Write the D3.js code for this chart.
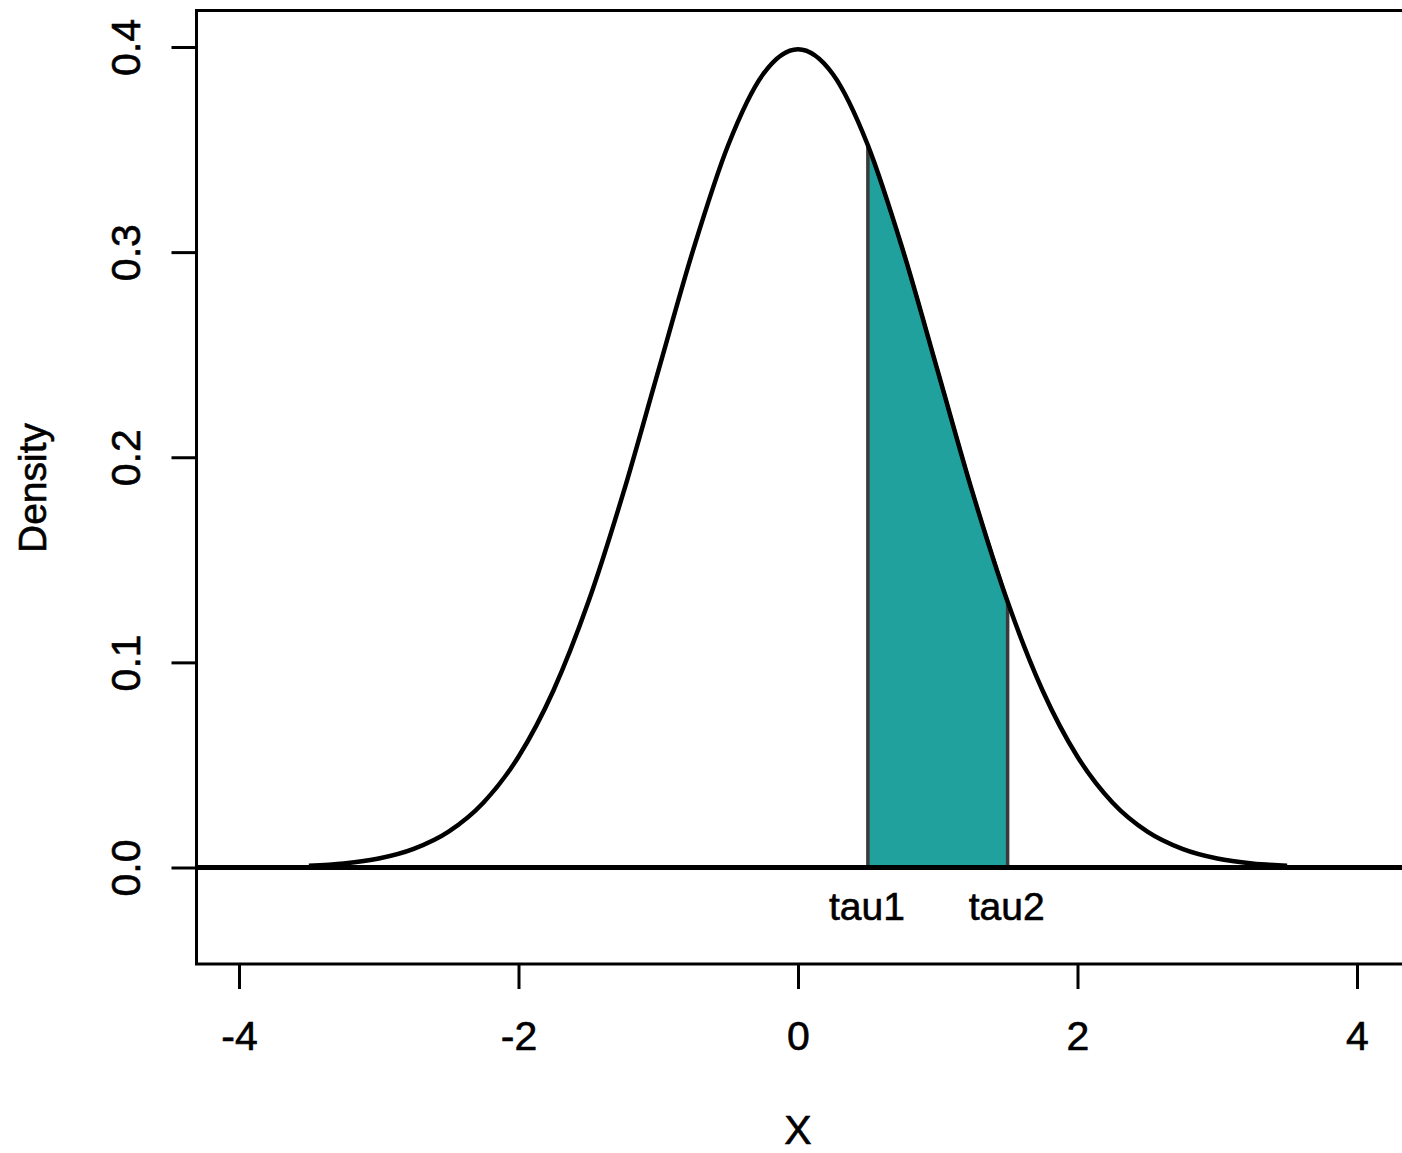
<!DOCTYPE html>
<html><head><meta charset="utf-8">
<script src="https://cdn.jsdelivr.net/npm/d3@7"></script>
<style>html,body{margin:0;padding:0;background:#fff;}svg{display:block;}</style>
</head><body><div id="chart"></div>
<script>
// Density curve points (x, density)
const xs = [-3.5,-3.25,-3,-2.75,-2.5,-2.25,-2,-1.75,-1.5,-1.25,-1,-0.75,-0.5,-0.25,0,0.25,0.5,0.75,1,1.25,1.5,1.75,2,2.25,2.5,2.75,3,3.25,3.5];
const dens = [0.0009,0.0020,0.0044,0.0091,0.0175,0.0317,0.0540,0.0863,0.1295,0.1826,0.2420,0.3011,0.3521,0.3867,0.3989,0.3867,0.3521,0.3011,0.2420,0.1826,0.1295,0.0863,0.0540,0.0317,0.0175,0.0091,0.0044,0.0020,0.0009];
const shadeFrom = 0.5, shadeTo = 1.5;
const shadeLabels = ["tau1","tau2"];
const xTicks = [-4,-2,0,2,4];
const yTicks = [0.0,0.1,0.2,0.3,0.4];
const xLabel = "X", yLabel = "Density";

const W = 1402, H = 1153;
const svg = d3.select("#chart").append("svg").attr("width", W).attr("height", H);
const x = d3.scaleLinear().domain([-4,4]).range([239,1357]);
const y = d3.scaleLinear().domain([0,0.4]).range([867.5,47]);
const font = "'Liberation Sans', Arial, sans-serif";
const pts = xs.map((v,i)=>[v,dens[i]]);

// shaded region
const shadePts = pts.filter(p=>p[0]>=shadeFrom && p[0]<=shadeTo);
const area = d3.area().x(d=>x(d[0])).y0(y(0)).y1(d=>y(d[1])).curve(d3.curveMonotoneX);
svg.append("path").datum(shadePts).attr("d", area)
  .attr("fill","#20a19d").attr("stroke","#3a3a3a").attr("stroke-width",3.5);

// curve
const line = d3.line().x(d=>x(d[0])).y(d=>y(d[1])).curve(d3.curveMonotoneX);
svg.append("path").datum(pts).attr("d", line).attr("fill","none")
  .attr("stroke","#000").attr("stroke-width",4.5).attr("stroke-linejoin","round");

// zero line
svg.append("line").attr("x1",196.5).attr("x2",W+5).attr("y1",y(0)).attr("y2",y(0))
  .attr("stroke","#000").attr("stroke-width",5);

// box
svg.append("rect").attr("x",196.5).attr("y",10.5).attr("width",1215).attr("height",953.5)
  .attr("fill","none").attr("stroke","#000").attr("stroke-width",3);

const hyph = d => String(d).replace("\u2212","-");

// x axis
const xa = svg.append("g").attr("transform","translate(0,964)")
  .call(d3.axisBottom(x).tickValues(xTicks).tickSize(25).tickFormat(d=>hyph(d3.format("d")(d))));
xa.select(".domain").remove();
xa.selectAll("line").attr("stroke","#000").attr("stroke-width",3);
xa.selectAll("text").attr("font-family",font).attr("font-size",41).attr("fill","#000")
  .attr("stroke","#000").attr("stroke-width",0.6).attr("dy",null).attr("y",86);

// y axis
const ya = svg.append("g").attr("transform","translate(196.5,0)")
  .call(d3.axisLeft(y).tickValues(yTicks).tickSize(25).tickFormat(d3.format(".1f")));
ya.select(".domain").remove();
ya.selectAll("line").attr("stroke","#000").attr("stroke-width",3);
ya.selectAll("text").attr("font-family",font).attr("font-size",41).attr("fill","#000")
  .attr("stroke","#000").attr("stroke-width",0.6)
  .attr("x",null).attr("dy",null).attr("text-anchor","middle")
  .attr("transform","translate(-56.5,0) rotate(-90)");

// tau labels
svg.selectAll(".tau").data([shadeFrom, shadeTo]).enter().append("text")
  .attr("x",d=>x(d)-1).attr("y",920).attr("text-anchor","middle")
  .attr("font-family",font).attr("font-size",39).attr("fill","#000")
  .attr("stroke","#000").attr("stroke-width",0.6)
  .text((d,i)=>shadeLabels[i]);

// axis titles
svg.append("text").attr("x",x(0)).attr("y",1144).attr("text-anchor","middle")
  .attr("font-family",font).attr("font-size",41).attr("stroke","#000").attr("stroke-width",0.6).text(xLabel);
svg.append("text").attr("transform","translate(46,488) rotate(-90)").attr("text-anchor","middle")
  .attr("font-family",font).attr("font-size",39).attr("stroke","#000").attr("stroke-width",0.6).text(yLabel);
</script></body></html>
